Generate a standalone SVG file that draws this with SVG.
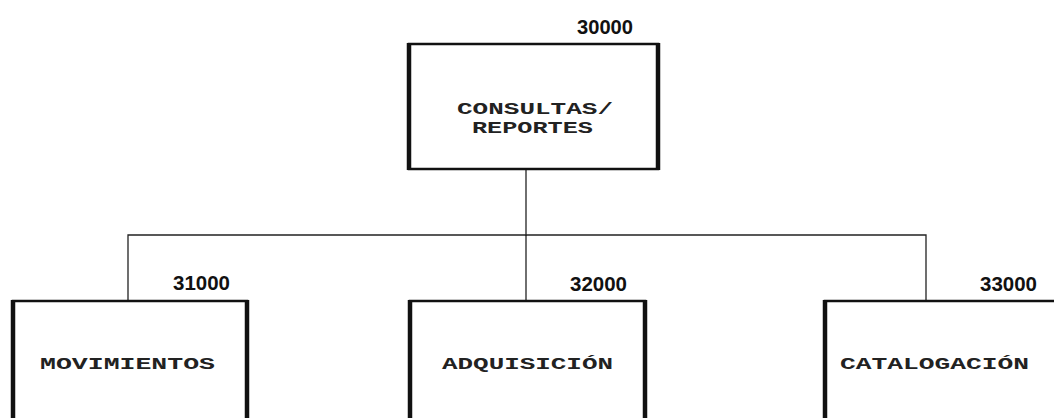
<svg xmlns="http://www.w3.org/2000/svg" width="1054" height="418" viewBox="0 0 1054 418">
<style>
.box{fill:#fff;stroke:#111;stroke-width:2.5}
.side{stroke:#111;stroke-width:4.5}
.lbl{font-family:"Liberation Mono",monospace;font-weight:bold;font-size:17px;fill:#222}
.num{font-family:"Liberation Sans Narrow","Liberation Sans",sans-serif;font-weight:bold;font-size:20px;fill:#111}
.conn{fill:none;stroke:#222;stroke-width:1.3}
</style>
<rect width="1054" height="418" fill="#fff"/>
<g id="connectors">
<path class="conn" d="M526 169 V236"/>
<path class="conn" d="M128 300 V235 H926 V300"/>
<path class="conn" d="M526 235 V300"/>
</g>
<g id="n30000">
<rect class="box" x="409" y="44" width="249" height="125"/>
<line class="side" x1="409" y1="43" x2="409" y2="170"/>
<line class="side" x1="658" y1="43" x2="658" y2="170"/>
<text class="num" x="577" y="34" textLength="56" lengthAdjust="spacingAndGlyphs">30000</text>
<text class="lbl" x="457" y="114" textLength="156" lengthAdjust="spacingAndGlyphs">CONSULTAS/</text>
<text class="lbl" x="472" y="133" textLength="121" lengthAdjust="spacingAndGlyphs">REPORTES</text>
</g>
<g id="n31000">
<rect class="box" x="13" y="301" width="234" height="140"/>
<line class="side" x1="13" y1="300" x2="13" y2="418"/>
<line class="side" x1="247" y1="300" x2="247" y2="418"/>
<text class="num" x="173" y="290" textLength="57" lengthAdjust="spacingAndGlyphs">31000</text>
<text class="lbl" x="40" y="369" textLength="175" lengthAdjust="spacingAndGlyphs">MOVIMIENTOS</text>
</g>
<g id="n32000">
<rect class="box" x="410" y="301" width="235" height="140"/>
<line class="side" x1="410" y1="300" x2="410" y2="418"/>
<line class="side" x1="645" y1="300" x2="645" y2="418"/>
<text class="num" x="570" y="291" textLength="57" lengthAdjust="spacingAndGlyphs">32000</text>
<text class="lbl" x="442" y="369" textLength="171" lengthAdjust="spacingAndGlyphs">ADQUISICIÓN</text>
</g>
<g id="n33000">
<rect class="box" x="825" y="301" width="260" height="140"/>
<line class="side" x1="825" y1="300" x2="825" y2="418"/>
<text class="num" x="980" y="291" textLength="57" lengthAdjust="spacingAndGlyphs">33000</text>
<text class="lbl" x="840" y="369" textLength="189" lengthAdjust="spacingAndGlyphs">CATALOGACIÓN</text>
</g>
</svg>
